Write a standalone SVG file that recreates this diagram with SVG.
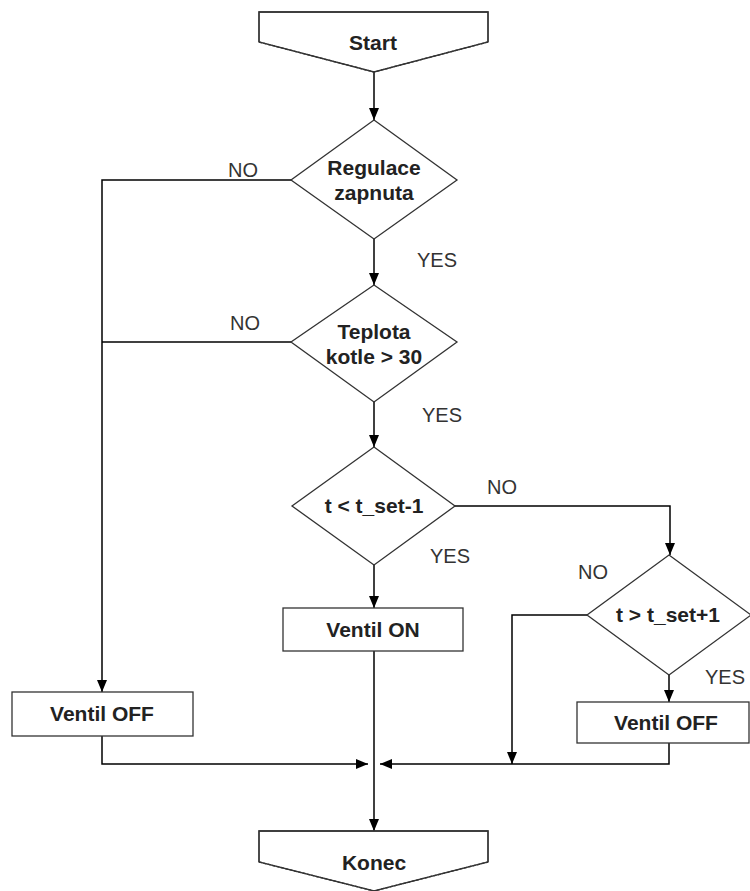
<svg xmlns="http://www.w3.org/2000/svg" width="750" height="891" viewBox="0 0 750 891">
<defs>
<marker id="arr" viewBox="0 0 12 10" refX="12" refY="5" markerWidth="12" markerHeight="10" markerUnits="userSpaceOnUse" orient="auto">
<path d="M0,0 L12,5 L0,10 Z" fill="#000"/>
</marker>
<style>
.shape{fill:#fff;stroke:#333;stroke-width:1.3}
.dash{fill:none;stroke:#333;stroke-width:1.3;stroke-dasharray:3 1.5}
.edge{fill:none;stroke:#000;stroke-width:1.5}
.arrow{marker-end:url(#arr)}
.t{font-family:"Liberation Sans",Arial,sans-serif;font-weight:bold;font-size:21px;fill:#222;text-anchor:middle}
.lbl{font-family:"Liberation Sans",Arial,sans-serif;font-size:20px;fill:#333;text-anchor:middle}
</style>
</defs>
<rect width="750" height="891" fill="#fff"/>
<g id="connectors">
<path class="edge arrow" d="M374,72 L374,120"/>
<path class="edge arrow" d="M291,180 L102,180 L102,692"/>
<path class="edge arrow" d="M374,239 L374,285"/>
<path class="edge" d="M291,342 L102,342"/>
<path class="edge arrow" d="M374,402 L374,447"/>
<path class="edge arrow" d="M374,565 L374,608"/>
<path class="edge arrow" d="M455,506 L670,506 L670,555"/>
<path class="edge arrow" d="M669,675 L669,702"/>
<path class="edge arrow" d="M587,615 L512,615 L512,764"/>
<path class="edge arrow" d="M102,736 L102,764 L368,764"/>
<path class="edge arrow" d="M669,743 L669,764 L380,764"/>
<path class="edge arrow" d="M374,651 L374,831"/>
<text class="lbl" x="243" y="177">NO</text>
<text class="lbl" x="437" y="267">YES</text>
<text class="lbl" x="245" y="330">NO</text>
<text class="lbl" x="442" y="422">YES</text>
<text class="lbl" x="502" y="494">NO</text>
<text class="lbl" x="450" y="563">YES</text>
<text class="lbl" x="593" y="579">NO</text>
<text class="lbl" x="725" y="684">YES</text>
</g>
<g id="start">
<path class="shape" d="M259,12 L488,12 L488,42 L374,72 L259,42 Z" stroke="none"/>
<path class="edge" style="stroke:#333;stroke-width:1.3" d="M259,42 L259,12 L488,12 L488,42"/>
<path class="dash" d="M259,42 L374,72 L488,42"/>
<text class="t" x="373" y="50">Start</text>
</g>
<g id="regulace">
<path class="shape" d="M374,120 L457,180 L374,239 L291,180 Z"/>
<text class="t" x="374" y="175">Regulace</text>
<text class="t" x="374" y="200">zapnuta</text>
</g>
<g id="teplota">
<path class="shape" d="M374,285 L457,342 L374,402 L291,342 Z"/>
<text class="t" x="374" y="339">Teplota</text>
<text class="t" x="374" y="364">kotle &gt; 30</text>
</g>
<g id="tmin">
<path class="shape" d="M374,447 L455,506 L374,565 L292,506 Z"/>
<text class="t" x="374" y="513">t &lt; t_set-1</text>
</g>
<g id="tmax">
<path class="shape" d="M669,555 L751,615 L669,675 L587,615 Z"/>
<text class="t" x="668" y="622">t &gt; t_set+1</text>
</g>
<g id="ventil-on">
<rect class="shape" x="283" y="608" width="180" height="43"/>
<text class="t" x="373" y="637">Ventil ON</text>
</g>
<g id="ventil-off-left">
<rect class="shape" x="12" y="692" width="181" height="44"/>
<text class="t" x="102" y="721">Ventil OFF</text>
</g>
<g id="ventil-off-right">
<rect class="shape" x="577" y="702" width="172" height="41"/>
<text class="t" x="666" y="730">Ventil OFF</text>
</g>
<g id="konec">
<path class="shape" d="M259,831 L488,831 L488,862 L374,891 L259,862 Z" stroke="none"/>
<path class="edge" style="stroke:#333;stroke-width:1.3" d="M259,862 L259,831 L488,831 L488,862"/>
<path class="dash" d="M259,862 L374,891 L488,862"/>
<text class="t" x="374" y="870">Konec</text>
</g>
</svg>
